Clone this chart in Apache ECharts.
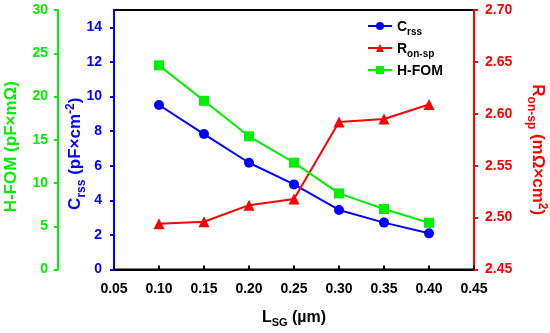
<!DOCTYPE html>
<html>
<head>
<meta charset="utf-8">
<script src="https://cdn.jsdelivr.net/npm/echarts@6/dist/echarts.min.js"></script>
<style>html,body{margin:0;padding:0;background:#fff}#c{width:550px;height:333px}</style>
</head>
<body>
<div id="c"></div>
<script>
var lsg = [0.10, 0.15, 0.20, 0.25, 0.30, 0.35, 0.40];
var crss = [9.51, 7.83, 6.17, 4.92, 3.44, 2.71, 2.09];
var ronsp = [2.494, 2.496, 2.512, 2.518, 2.592, 2.595, 2.609];
var hfom = [23.6, 19.5, 15.4, 12.35, 8.8, 7.0, 5.4];

var FONT = '"Liberation Sans", Arial, sans-serif';
var BLUE = '#0000ff', RED = '#ff0000', GREEN = '#00ee00';

function pairs(ys) { return lsg.map(function (x, i) { return [x, ys[i]]; }); }

function richSet(color, size) {
  return {
    a: { color: color, fontSize: size, fontWeight: 'bold', fontFamily: FONT, lineHeight: size + 2, verticalAlign: 'top', padding: [2, 0, 0, 0] },
    s: { color: color, fontSize: Math.round(size * 0.68), fontWeight: 'bold', fontFamily: FONT, lineHeight: Math.round(size * 0.68), verticalAlign: 'top', padding: [Math.round(size * 0.62), 0, 0, 0] },
    p: { color: color, fontSize: Math.round(size * 0.68), fontWeight: 'bold', fontFamily: FONT, lineHeight: Math.round(size * 0.68), verticalAlign: 'top', padding: [0, 0, 0, 0] }
  };
}

var chart = echarts.init(document.getElementById('c'), null, { renderer: 'canvas' });
var labelBase = { fontSize: 14, fontWeight: 'bold', fontFamily: FONT };

chart.setOption({
  animation: false,
  backgroundColor: '#fff',
  grid: { left: 114, right: 76, top: 10, bottom: 63.5, show: true, borderColor: '#000', borderWidth: 2, containLabel: false, outerBoundsMode: 'none' },
  legend: {
    orient: 'vertical', left: 362, top: 13, itemWidth: 24, itemHeight: 10, itemGap: 3,
    textStyle: { color: '#000', fontSize: 14, fontWeight: 'bold', fontFamily: FONT, rich: richSet('#000', 14) },
    formatter: function (n) {
      if (n === 'Crss') return '{a|C}{s|rss}';
      if (n === 'Ron-sp') return '{a|R}{s|on-sp}';
      return '{a|H-FOM}';
    },
    data: ['Crss', 'Ron-sp', 'H-FOM']
  },
  xAxis: {
    type: 'value', min: 0.05, max: 0.45, interval: 0.05,
    name: '{a|L}{s|SG}{a| (µm)}', nameLocation: 'middle', nameGap: 38, nameMoveOverlap: false,
    nameTextStyle: { rich: richSet('#000', 16) },
    axisLine: { show: true, lineStyle: { color: '#000', width: 2 } },
    axisTick: { show: true, inside: true, length: 4, lineStyle: { color: '#000', width: 2 } },
    axisLabel: Object.assign({ color: '#000', margin: 13, formatter: function (v) { return v.toFixed(2); } }, labelBase),
    splitLine: { show: false }
  },
  yAxis: [
    {
      type: 'value', min: 0, max: 15, interval: 2, position: 'left',
      name: '{a|C}{s|rss}{a| (pF×cm}{p|-2}{a|)}', nameLocation: 'middle', nameGap: 30, nameRotate: 90, nameMoveOverlap: false,
      nameTextStyle: { rich: richSet(BLUE, 17), padding: [0, 28, 0, 0] },
      axisLine: { show: true, lineStyle: { color: BLUE, width: 2 } },
      axisTick: { show: true, length: 4, lineStyle: { color: BLUE, width: 2 } },
      axisLabel: Object.assign({ color: BLUE, margin: 12, showMaxLabel: false }, labelBase),
      splitLine: { show: false }
    },
    {
      type: 'value', min: 2.45, max: 2.70, interval: 0.05, position: 'right',
      name: '{a|R}{s|on-sp}{a| (mΩ×cm}{p|2}{a|)}', nameLocation: 'middle', nameGap: 55, nameRotate: -90, nameMoveOverlap: false,
      nameTextStyle: { rich: richSet(RED, 17), padding: [0, 0, 0, 20] },
      axisLine: { show: true, lineStyle: { color: RED, width: 2 } },
      axisTick: { show: true, length: 4, lineStyle: { color: RED, width: 2 } },
      axisLabel: Object.assign({ color: RED, margin: 11, formatter: function (v) { return v.toFixed(2); } }, labelBase),
      splitLine: { show: false }
    },
    {
      type: 'value', min: 0, max: 30, interval: 5, position: 'left', offset: 56,
      name: '{a|H-FOM (pF×mΩ)}', nameLocation: 'middle', nameGap: 38, nameRotate: 90, nameMoveOverlap: false,
      nameTextStyle: { rich: richSet(GREEN, 17), padding: [0, 14, 0, 0] },
      axisLine: { show: true, lineStyle: { color: GREEN, width: 2 } },
      axisTick: { show: true, length: 4, lineStyle: { color: GREEN, width: 2 } },
      axisLabel: Object.assign({ color: GREEN, margin: 10 }, labelBase),
      splitLine: { show: false }
    }
  ],
  series: [
    { name: 'Crss', type: 'line', yAxisIndex: 0, data: pairs(crss), symbol: 'circle', symbolSize: 10,
      lineStyle: { color: BLUE, width: 2 }, itemStyle: { color: BLUE } },
    { name: 'Ron-sp', type: 'line', yAxisIndex: 1, data: pairs(ronsp), symbol: 'triangle', symbolSize: 11,
      lineStyle: { color: RED, width: 2 }, itemStyle: { color: RED } },
    { name: 'H-FOM', type: 'line', yAxisIndex: 2, data: pairs(hfom), symbol: 'rect', symbolSize: 10,
      lineStyle: { color: GREEN, width: 2 }, itemStyle: { color: GREEN } }
  ]
});
</script>
</body>
</html>
